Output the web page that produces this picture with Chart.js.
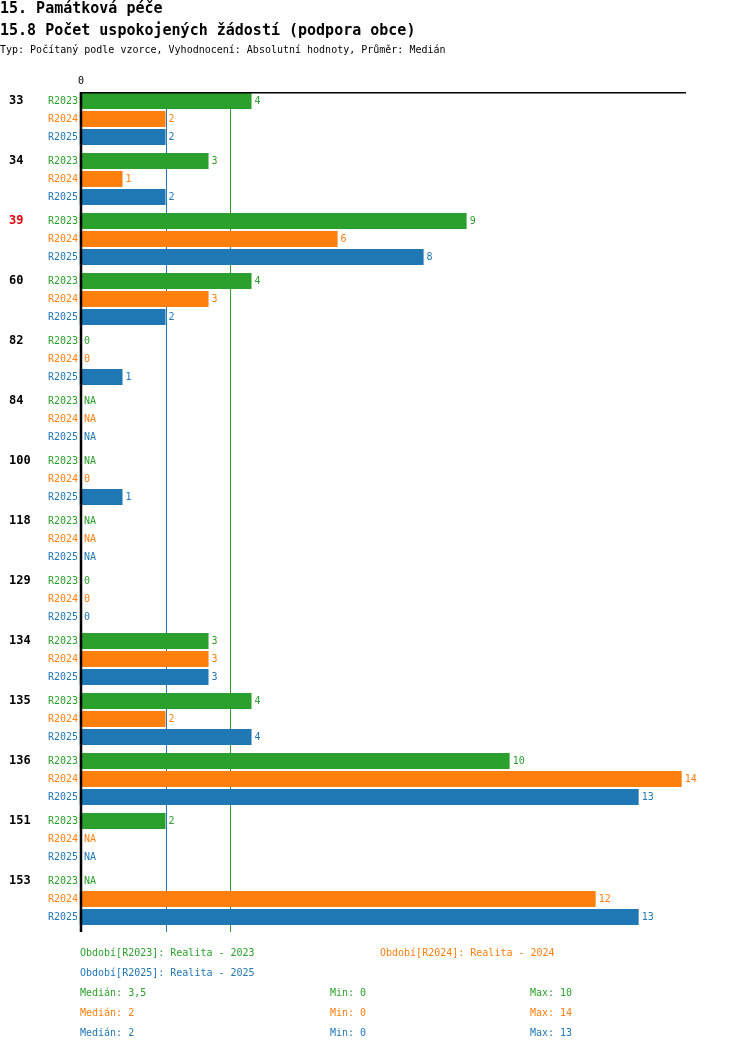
<!DOCTYPE html>
<html>
<head>
<meta charset="utf-8">
<script src="https://cdn.jsdelivr.net/npm/chart.js@4/dist/chart.umd.min.js"></script>
<style>
    body { margin: 0; background: #fff; }
    #wrap { position: relative; width: 750px; height: 1052px; overflow: hidden; }
    #chart { position: absolute; left: 0; top: 0; }
    .txt { position: absolute; white-space: pre; font-family: 'DejaVu Sans Mono', monospace; line-height: 1; }
    .h1 { font-size: 15px; font-weight: bold; color: #000; }
    .sub { font-size: 10px; color: #000; }
    .leg { font-size: 10px; }
</style>
</head>
<body>
<div id="wrap">
    <canvas id="chart" width="750" height="1052"></canvas>
    <div class="txt h1" style="left:0;top:1px;">15. Památková péče</div>
    <div class="txt h1" style="left:0;top:23px;">15.8 Počet uspokojených žádostí (podpora obce)</div>
    <div class="txt sub" style="left:0;top:45px;">Typ: Počítaný podle vzorce, Vyhodnocení: Absolutní hodnoty, Průměr: Medián</div>
    <div id="legend"></div>
</div>
<script>
// Chart data
const CATEGORIES = ['33', '34', '39', '60', '82', '84', '100', '118', '129', '134', '135', '136', '151', '153'];
const HIGHLIGHT = '39';
const SERIES = ['R2023', 'R2024', 'R2025'];
const R2023 = [4, 3, 9, 4, 0, null, null, null, 0, 3, 4, 10, 2, null];
const R2024 = [2, 1, 6, 3, 0, null, 0, null, 0, 3, 2, 14, null, 12];
const R2025 = [2, 2, 8, 2, 1, null, 1, null, 0, 3, 4, 13, null, 13];
const COLORS = ['#2ca02c', '#ff7f0e', '#1f77b4'];

const VALUES = [R2023, R2024, R2025];

// Median / min / max of the non-NA values
function stats(arr) {
    const v = arr.filter(d => d !== null).sort((a, b) => a - b);
    const n = v.length;
    const med = n % 2 ? v[(n - 1) / 2] : (v[n / 2 - 1] + v[n / 2]) / 2;
    return { median: med, min: v[0], max: v[n - 1] };
}
const STATS = VALUES.map(stats);

function fmt(num) {
    return String(num).replace('.', ',');
}

// Legend and summary rows under the chart
function renderLegend() {
    const el = document.getElementById('legend');
    let html = '';
    const legPos = [[80, 948], [380, 948], [80, 968]];
    SERIES.forEach((s, i) => {
        html += `<div class="txt leg" style="left:${legPos[i][0]}px;top:${legPos[i][1]}px;color:${COLORS[i]}">Období[${s}]: Realita - ${s.slice(1)}</div>`;
    });
    STATS.forEach((st, i) => {
        const top = 988 + i * 20;
        html += `<div class="txt leg" style="left:80px;top:${top}px;color:${COLORS[i]}">Medián: ${fmt(st.median)}</div>`;
        html += `<div class="txt leg" style="left:330px;top:${top}px;color:${COLORS[i]}">Min: ${st.min}</div>`;
        html += `<div class="txt leg" style="left:530px;top:${top}px;color:${COLORS[i]}">Max: ${st.max}</div>`;
    });
    el.innerHTML = html;
}

// Axis lines, median lines and all the text labels on the canvas
const labelPlugin = {
    id: 'labelPlugin',
    beforeDatasetsDraw(chart) {
        const { ctx, chartArea, scales: { x } } = chart;
        const top = chartArea.top + 3, bottom = chartArea.bottom + 3;
        ctx.save();
        ctx.lineWidth = 1;
        [1, 2, 0].forEach(i => {
            const px = Math.round(x.getPixelForValue(STATS[i].median)) + 0.5;
            ctx.strokeStyle = COLORS[i];
            ctx.beginPath();
            ctx.moveTo(px, top);
            ctx.lineTo(px, bottom);
            ctx.stroke();
        });
        ctx.restore();
    },
    afterDatasetsDraw(chart) {
        const { ctx, chartArea, scales: { x } } = chart;
        const zero = x.getPixelForValue(0);
        const axisX = zero + 1.5;
        const top = chartArea.top + 3, bottom = chartArea.bottom + 3;
        ctx.save();

        // top and left axis
        ctx.strokeStyle = '#000';
        ctx.lineWidth = 1.5;
        ctx.beginPath();
        ctx.moveTo(axisX, top + 0.75);
        ctx.lineTo(chartArea.right, top + 0.75);
        ctx.stroke();
        ctx.lineWidth = 2.5;
        ctx.beginPath();
        ctx.moveTo(axisX, top);
        ctx.lineTo(axisX, bottom);
        ctx.stroke();

        ctx.font = "10px 'DejaVu Sans Mono', monospace";
        ctx.fillStyle = '#000';
        ctx.textAlign = 'center';
        ctx.textBaseline = 'middle';
        ctx.fillText('0', axisX, top - 11);

        // category labels next to the first bar of each group
        const meta0 = chart.getDatasetMeta(0);
        ctx.font = "bold 12px 'DejaVu Sans Mono', monospace";
        ctx.textAlign = 'left';
        CATEGORIES.forEach((c, i) => {
            ctx.fillStyle = c === HIGHLIGHT ? '#e8000b' : '#000';
            ctx.fillText(c, 9, meta0.data[i].y);
        });

        // series labels and values
        ctx.font = "10px 'DejaVu Sans Mono', monospace";
        chart.data.datasets.forEach((ds, d) => {
            const meta = chart.getDatasetMeta(d);
            ctx.fillStyle = COLORS[d];
            meta.data.forEach((bar, i) => {
                const v = ds.data[i];
                ctx.textAlign = 'right';
                ctx.fillText(SERIES[d], axisX - 3, bar.y);
                ctx.textAlign = 'left';
                const end = v === null ? zero : x.getPixelForValue(v);
                ctx.fillText(v === null ? 'NA' : String(v), Math.max(end, axisX) + 3, bar.y);
            });
        });
        ctx.restore();
    }
};

function renderChart() {
    const ctx = document.getElementById('chart').getContext('2d');
    new Chart(ctx, {
        type: 'bar',
        data: {
            labels: CATEGORIES,
            datasets: SERIES.map((s, i) => ({
                label: s,
                data: VALUES[i],
                backgroundColor: COLORS[i],
                borderWidth: 0,
                categoryPercentage: 0.9,
                barPercentage: 16 / 18
            }))
        },
        options: {
            indexAxis: 'y',
            responsive: false,
            animation: false,
            devicePixelRatio: 1,
            layout: { padding: { left: 79.5, top: 89, right: 64, bottom: 123 } },
            scales: {
                x: { display: false, min: 0, max: 14.1 },
                y: { display: false }
            },
            plugins: {
                legend: { display: false },
                tooltip: { enabled: false }
            }
        },
        plugins: [labelPlugin]
    });
}

renderLegend();
renderChart();
</script>
</body>
</html>
